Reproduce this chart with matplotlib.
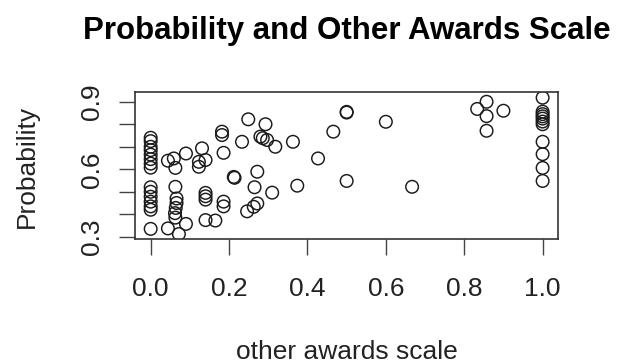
import matplotlib.pyplot as plt

# other awards scale (x) and probability (y)
awards_scale = [0.0, 0.0, 0.0, 0.0, 0.0, 0.0, 0.0, 0.0,
                0.0, 0.0, 0.0, 0.0, 0.0, 0.0, 0.0,
                0.044, 0.059, 0.063, 0.09,
                0.063, 0.066, 0.066, 0.064, 0.062, 0.063,
                0.044, 0.072, 0.09,
                0.131, 0.123, 0.123, 0.14, 0.14, 0.14, 0.14, 0.14, 0.165,
                0.182, 0.182, 0.186, 0.186, 0.186,
                0.212, 0.214,
                0.233, 0.249, 0.272, 0.265, 0.272, 0.263, 0.246,
                0.28, 0.286, 0.293, 0.297, 0.318, 0.31,
                0.363, 0.374, 0.427, 0.466, 0.5, 0.5, 0.5, 0.6, 0.667,
                0.833, 0.857, 0.857, 0.857, 0.9,
                1.0, 1.0, 1.0, 1.0, 1.0, 1.0, 1.0, 1.0, 1.0, 1.0, 1.0]
probability = [0.74, 0.725, 0.70, 0.685, 0.665, 0.645, 0.625, 0.607,
               0.52, 0.50, 0.478, 0.456, 0.435, 0.42, 0.335,
               0.638, 0.648, 0.606, 0.67,
               0.522, 0.47, 0.45, 0.428, 0.405, 0.385,
               0.337, 0.312, 0.357,
               0.693, 0.633, 0.611, 0.641, 0.495, 0.48, 0.465, 0.374, 0.372,
               0.767, 0.752, 0.673, 0.456, 0.435,
               0.566, 0.562,
               0.722, 0.822, 0.589, 0.52, 0.448, 0.433, 0.413,
               0.745, 0.738, 0.80, 0.73, 0.70, 0.496,
               0.722, 0.527, 0.648, 0.767, 0.852, 0.855, 0.548, 0.811, 0.522,
               0.868, 0.9, 0.836, 0.771, 0.86,
               0.918, 0.856, 0.845, 0.835, 0.825, 0.812, 0.80, 0.722, 0.667, 0.606, 0.548]

x_ticks = [0.0, 0.2, 0.4, 0.6, 0.8, 1.0]
x_tick_labels = ["0.0", "0.2", "0.4", "0.6", "0.8", "1.0"]
y_ticks = [0.3, 0.4, 0.5, 0.6, 0.7, 0.8, 0.9]
y_tick_labels = ["0.3", "", "", "0.6", "", "", "0.9"]

plt.rcParams['font.family'] = ['Liberation Sans', 'DejaVu Sans']

W, H = 619, 364
fig = plt.figure(figsize=(W / 100, H / 100), dpi=100)
ax = fig.add_axes([135 / W, 1 - 239 / H, (558.3 - 135) / W, (239 - 92.3) / H])

ax.scatter(awards_scale, probability, s=82, facecolors='none',
           edgecolors='#1a1a1a', linewidths=1.05)

ax.set_xlim(-0.04, 1.04)
ax.set_ylim(0.29, 0.942)

ax.set_xticks(x_ticks)
ax.set_xticklabels(x_tick_labels)
ax.set_yticks(y_ticks)
ax.set_yticklabels(y_tick_labels, rotation=90, va='center')

for sp in ax.spines.values():
    sp.set_linewidth(1.2)
    sp.set_color('#333333')
ax.tick_params(axis='both', length=11.5, width=1.0, color='#444444',
               labelsize=19, labelcolor='#222222')
ax.tick_params(axis='x', pad=16)
ax.tick_params(axis='y', pad=11)

fig.text(346.7 / W, 1 - 39.3 / H, "Probability and Other Awards Scale",
         ha='center', va='baseline', fontsize=22.5, fontweight='bold')
fig.text(346.7 / W, 1 - 359 / H, "other awards scale",
         ha='center', va='baseline', fontsize=19, color='#222222')
fig.text(15 / W, 1 - 166 / H, "Probability", rotation=90,
         ha='left', va='center', fontsize=19, color='#222222')

fig.savefig('out.png', dpi=100)
